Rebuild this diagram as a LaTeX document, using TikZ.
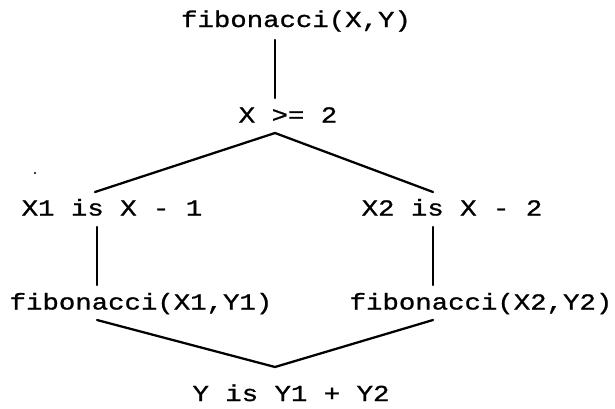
\documentclass[tikz,border=0pt]{standalone}
\usepackage{fontspec}
\newfontfamily\courfont[FakeStretch=1.2,FakeBold=1]{Liberation Mono}
\begin{document}
\begin{tikzpicture}[x=0.75pt,y=-0.75pt,
  lbl/.style={inner sep=0pt,anchor=base,font=\courfont\fontsize{17.1pt}{20pt}\selectfont},
  conn/.style={line width=1.7pt,line join=round,line cap=round}]
\useasboundingbox (0,0) rectangle (615,408);
\node[lbl] (top) at (296,27) {fibonacci(X,Y)};
\node[lbl] (ge) at (288,122.5) {X >= 2};
\node[lbl] (l1) at (112,215.5) {X1 is X - 1};
\node[lbl] (r1) at (452,215.5) {X2 is X - 2};
\node[lbl] (l2) at (141,309.5) {fibonacci(X1,Y1)};
\node[lbl] (r2) at (481,309.5) {fibonacci(X2,Y2)};
\node[lbl] (bot) at (291,401) {Y is Y1 + Y2};
\coordinate (a0) at (275,40);
\coordinate (a1) at (275,98);
\coordinate (ua) at (275,133);
\coordinate (ul) at (95,192);
\coordinate (ur) at (433,192);
\coordinate (lv1) at (97,227);
\coordinate (lv2) at (97,285);
\coordinate (rv1) at (433,227);
\coordinate (rv2) at (433,285);
\coordinate (dl) at (97,320);
\coordinate (dr) at (433,320);
\coordinate (da) at (275,367);
\draw[conn] (a0) -- (a1);
\draw[conn] (ul) -- (ua) -- (ur);
\draw[conn] (lv1) -- (lv2);
\draw[conn] (rv1) -- (rv2);
\draw[conn] (dl) -- (da) -- (dr);
\fill (35,173) circle (1.2);
\end{tikzpicture}
\end{document}
